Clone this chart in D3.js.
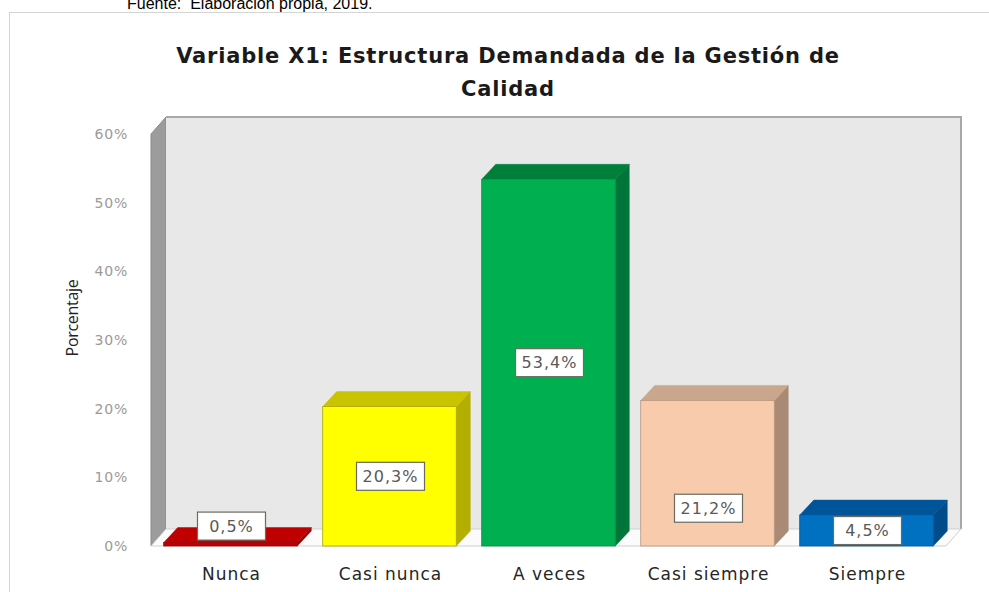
<!DOCTYPE html>
<html><head><meta charset="utf-8">
<script src="https://cdn.jsdelivr.net/npm/d3@7"></script>
<style>html,body{margin:0;padding:0;background:#fff;}svg{display:block;}</style>
</head><body>
<svg id="c" width="989" height="592"></svg>
<script>
const categories = ["Nunca", "Casi nunca", "A veces", "Casi siempre", "Siempre"];
const values = [0.5, 20.3, 53.4, 21.2, 4.5];
const valueLabels = ["0,5%", "20,3%", "53,4%", "21,2%", "4,5%"];
const labelAt = [2.9, 10.15, 26.7, 5.5, 2.25];
const yTicks = [0, 10, 20, 30, 40, 50, 60];
const frontColors = ["#C00000", "#FFFF00", "#00B050", "#F8CBAD", "#0070C0"];
const topColors = ["#C00000", "#C9C300", "#007F3A", "#C9A68C", "#00549A"];
const sideColors = ["#8E0000", "#B3AE00", "#00753A", "#A98A74", "#004C8A"];
const edgeColors = ["#9a0000", "#a8a400", "#00904a", "#b8957c", "#005a9c"];

const svg = d3.select("#c");
const FL = 151, FR = 946, Y0 = 546, Y60 = 134, DX = 15, DY = 17, BDX = 14, BDY = 15;

// outer frame
svg.append("rect").attr("x", 9.5).attr("y", 12.5).attr("width", 1000).attr("height", 600)
  .attr("fill", "#fff").attr("stroke", "#d4d4d4");

// source text (cut off at top, as in the reference)
svg.append("text").attr("x", 127).attr("y", 9).attr("font-family", "Liberation Sans, Arial")
  .attr("font-size", 16).attr("fill", "#000").style("white-space", "pre")
  .text("Fuente:  Elaboración propia, 2019.");

// title
const title = svg.append("text").attr("text-anchor", "middle").attr("font-family", "DejaVu Sans")
  .attr("font-weight", "bold").attr("font-size", 21).attr("letter-spacing", 0.8).attr("fill", "#1a1a1a");
title.append("tspan").attr("x", 508).attr("y", 63).text("Variable X1: Estructura Demandada de la Gestión de");
title.append("tspan").attr("x", 508).attr("y", 96).text("Calidad");

const x = d3.scaleBand().domain(categories).range([FL, FR]).paddingInner(0.16).paddingOuter(0.08);
const y = d3.scaleLinear().domain([0, 60]).range([Y0, Y60]);

// walls
const g = svg.append("g");
g.append("path").attr("d", `M${FL},${y(60)} L${FL + DX},${y(60) - DY} L${FL + DX},${Y0 - DY} L${FL},${Y0} Z`)
  .attr("fill", "#9c9c9c").attr("stroke", "#8a8a8a");
g.append("rect").attr("x", FL + DX).attr("y", y(60) - DY).attr("width", FR - FL).attr("height", Y0 - y(60))
  .attr("fill", "#e8e8e8").attr("stroke", "none");
g.append("path").attr("d", `M${FL + DX},${y(60) - DY} L${FR + DX},${y(60) - DY} L${FR + DX},${Y0 - DY}`)
  .attr("fill", "none").attr("stroke", "#a8a8a8").attr("stroke-width", 2);
g.append("path").attr("d", `M${FL},${Y0} L${FL + DX},${Y0 - DY} L${FR + DX},${Y0 - DY} L${FR},${Y0} Z`)
  .attr("fill", "#fbfbfb").attr("stroke", "#cfcfcf").attr("stroke-width", 1);

// y axis labels
svg.append("g").selectAll("text").data(yTicks).join("text")
  .attr("x", 128).attr("y", d => y(d)).attr("dy", "0.35em").attr("text-anchor", "end")
  .attr("font-family", "DejaVu Sans").attr("font-size", 14).attr("letter-spacing", 0.8).attr("fill", "#9a9a9a")
  .text(d => d + "%");

// y axis title
svg.append("text").attr("transform", "translate(78,318) rotate(-90)").attr("text-anchor", "middle")
  .attr("font-family", "Open Sans").attr("font-size", 16).attr("letter-spacing", -0.3).attr("fill", "#222").text("Porcentaje");

// bars
const bw = x.bandwidth();
const bars = svg.append("g").selectAll("g").data(categories).join("g");
bars.each(function (c, i) {
  const gb = d3.select(this);
  const x0 = x(c), x1 = x0 + bw, yv = y(values[i]);
  gb.append("path").attr("d", `M${x1},${yv} L${x1 + BDX},${yv - BDY} L${x1 + BDX},${Y0 - BDY} L${x1},${Y0} Z`)
    .attr("fill", sideColors[i]).attr("stroke", sideColors[i]).attr("stroke-width", 0.5);
  gb.append("path").attr("d", `M${x0},${yv} L${x0 + BDX},${yv - BDY} L${x1 + BDX},${yv - BDY} L${x1},${yv} Z`)
    .attr("fill", topColors[i]).attr("stroke", topColors[i]).attr("stroke-width", 0.5);
  gb.append("rect").attr("x", x0).attr("y", yv).attr("width", bw).attr("height", Y0 - yv)
    .attr("fill", frontColors[i]).attr("stroke", edgeColors[i]).attr("stroke-width", 0.8);
});

// data labels
const labels = svg.append("g").selectAll("g").data(categories).join("g")
  .attr("transform", (c, i) => `translate(${x(c) + bw / 2 + 1},${y(labelAt[i])})`);
labels.append("rect").attr("x", -34).attr("y", -14).attr("width", 68).attr("height", 28)
  .attr("fill", "#fff").attr("stroke", "#6b6b5f").attr("stroke-width", 1.2);
labels.append("text").attr("text-anchor", "middle").attr("dy", "0.36em")
  .attr("font-family", "DejaVu Sans").attr("font-size", 16).attr("letter-spacing", 1).attr("fill", "#595959")
  .text((c, i) => valueLabels[i]);

// category labels
svg.append("g").selectAll("text").data(categories).join("text")
  .attr("x", c => x(c) + bw / 2 + 1).attr("y", 574).attr("dy", "0.35em").attr("text-anchor", "middle")
  .attr("font-family", "DejaVu Sans").attr("font-size", 17).attr("letter-spacing", 1).attr("fill", "#262626")
  .text(c => c);
</script>
</body></html>
